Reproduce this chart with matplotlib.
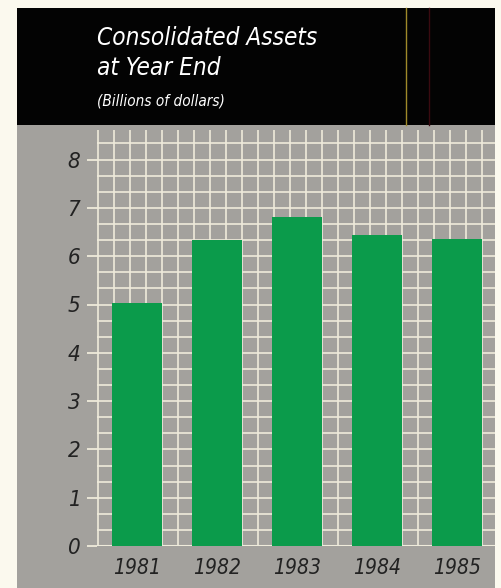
import numpy as np
import matplotlib
matplotlib.use("Agg")
import matplotlib.pyplot as plt
from matplotlib.patches import Rectangle

years = ["1981", "1982", "1983", "1984", "1985"]
assets = [5.04, 6.34, 6.82, 6.43, 6.36]
y_ticks = [0, 1, 2, 3, 4, 5, 6, 7, 8]

cream = "#fbf9ee"
panel_gray = "#a3a19d"
grid_col = "#efebdb"
bar_green = "#0b9b4b"
font = dict(family="DejaVu Sans", style="italic", stretch="condensed")

W, H = 501, 588
fig = plt.figure(figsize=(W / 100, H / 100), dpi=100)
fig.patch.set_facecolor(cream)

def px(x0, y0, x1, y1):
    # pixel box (top-left origin) -> figure fraction rect
    return [x0 / W, 1 - y1 / H, (x1 - x0) / W, (y1 - y0) / H]

# gray panel and black header band
for (x0, y0, x1, y1), col in [((17, 125, 495, 588), panel_gray), ((17, 8, 495, 125), "#030303")]:
    r = px(x0, y0, x1, y1)
    fig.patches.append(Rectangle((r[0], r[1]), r[2], r[3], transform=fig.transFigure,
                                 facecolor=col, edgecolor="none", zorder=-2))
# thin rules in the header
for xp, col in [(405.5, "#a08a2a"), (429, "#3a0a10")]:
    fig.add_artist(plt.Line2D([xp / W, xp / W], [1 - 125 / H, 1 - 8 / H],
                              transform=fig.transFigure, color=col, lw=1.0))

fig.text(97 / W, 1 - 38 / H, "Consolidated Assets", color="white", fontsize=17.5,
         va="center", ha="left", **font)
fig.text(97 / W, 1 - 68 / H, "at Year End", color="white", fontsize=17.5,
         va="center", ha="left", **font)
fig.text(97 / W, 1 - 101 / H, "(Billions of dollars)", color="white", fontsize=11,
         va="center", ha="left", **font)

ax = fig.add_axes(px(97, 130, 495, 546))
ax.set_facecolor("none")
x = np.arange(len(years))
ax.set_xlim(-0.5, 4.475)
ax.set_ylim(0, 416 / 48.3)

# square grid behind the bars
for gx in np.arange(-0.49, 4.5, 0.2):
    ax.axvline(gx, color=grid_col, lw=1.2, zorder=1)
for gy in np.arange(1 / 3, 8.6, 1 / 3):
    ax.axhline(gy, color=grid_col, lw=1.2, zorder=1)
ax.axhline(0, color=grid_col, lw=1.5, zorder=1)

ax.bar(x, assets, width=0.625, color=bar_green, zorder=3)

for s in ax.spines.values():
    s.set_visible(False)
ax.set_yticks(y_ticks)
ax.set_yticklabels([str(t) for t in y_ticks], fontsize=16, color="#222222", **font)
ax.tick_params(axis="y", length=7, width=1.3, color=grid_col, pad=5)
ax.set_xticks(x)
ax.set_xticklabels(years, fontsize=15, color="#222222", **font)
ax.tick_params(axis="x", length=0, pad=9)

fig.savefig("out.png", dpi=100, facecolor=cream)
